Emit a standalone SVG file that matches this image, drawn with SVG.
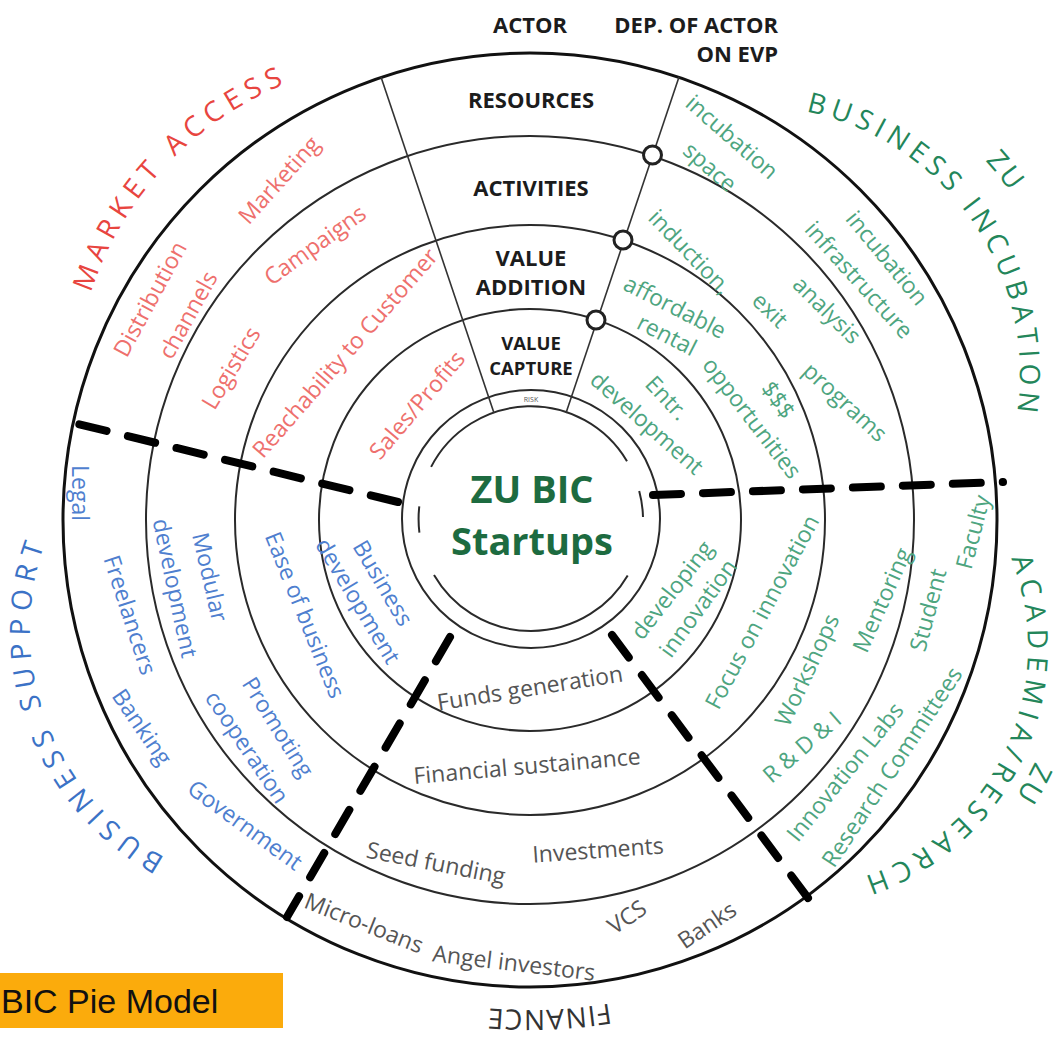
<svg xmlns="http://www.w3.org/2000/svg" width="1060" height="1039" viewBox="0 0 1060 1039">
<defs>
<style>
.ring{fill:none;stroke:#2a2a2a;stroke-width:2}
.outer{fill:none;stroke:#111;stroke-width:3}
.rad{stroke:#333;stroke-width:1.6}
.dash{stroke:#000;stroke-width:8;stroke-dasharray:28 22;stroke-linecap:round;fill:none}
.knob{fill:#fff;stroke:#222;stroke-width:3}
.hd{font-family:'Open Sans','DejaVu Sans',sans-serif;font-weight:700;fill:#1c1c1c;text-anchor:middle}
.it{font-family:'Open Sans','DejaVu Sans',sans-serif;font-size:23px;text-anchor:middle}
.red{fill:#ee706d}
.grn{fill:#4ea57f}
.blu{fill:#4f7fcf}
.gry{fill:#555}
.ttl{font-family:'Open Sans','DejaVu Sans',sans-serif;font-size:28px}
</style>
<path id="pMA" d="M 74.6 377.9 A 339 339 0 0 1 374.0 61.3"/>
<path id="pBI" d="M 684.7 114.6 A 268 268 0 0 1 970.3 529.4"/>
<path id="pZU1" d="M 916.6 104.3 A 316 316 0 0 1 1051.5 273.2"/>
<path id="pBS" d="M 245.8 885.4 A 259 259 0 0 1 89.4 464.9"/>
<path id="pAR" d="M 958.3 477.8 A 242 242 0 0 1 762.8 888.5"/>
<path id="pZU2" d="M 1056.4 690.5 A 274 274 0 0 1 965.6 854.4"/>
<path id="pFI" d="M 859.1 883.0 A 490 490 0 0 1 229.7 907.2"/>
</defs>
<rect width="1060" height="1039" fill="#fff"/>

<g id="rings">
<circle class="outer" cx="530" cy="520" r="467"/>
<circle class="ring" cx="530" cy="520" r="384"/>
<circle class="ring" cx="530" cy="520" r="295"/>
<circle class="ring" cx="530" cy="520" r="211"/>
<circle class="ring" cx="531" cy="519" r="129"/>
<g class="ring" stroke-width="1.6">
<path d="M 431.1 466.9 A 112 112 0 0 1 627.0 461.3"/>
<path d="M 639.2 490.9 A 112 112 0 0 1 643.0 517.0"/>
<path d="M 627.7 575.4 A 112 112 0 0 1 434.0 575.0"/>
<path d="M 419.4 532.6 A 112 112 0 0 1 419.3 506.3"/>
</g>
</g>

<g id="actor-wedge">
<line class="rad" x1="381" y1="77" x2="494" y2="413"/>
<line class="rad" x1="679" y1="77" x2="566" y2="413"/>
<circle class="knob" cx="652.5" cy="155" r="9"/>
<circle class="knob" cx="623" cy="240" r="9"/>
<circle class="knob" cx="596" cy="320" r="9"/>
<text class="hd" x="530" y="33" font-size="22">ACTOR</text>
<text class="hd" x="778" y="33" font-size="22" style="text-anchor:end">DEP. OF ACTOR</text>
<text class="hd" x="778" y="62" font-size="22" style="text-anchor:end">ON EVP</text>
<text class="hd" x="531" y="108" font-size="22">RESOURCES</text>
<text class="hd" x="531" y="196" font-size="22">ACTIVITIES</text>
<text class="hd" x="531" y="266" font-size="22">VALUE</text>
<text class="hd" x="531" y="295" font-size="22">ADDITION</text>
<text class="hd" x="531" y="350" font-size="18.5">VALUE</text>
<text class="hd" x="531" y="375" font-size="18.5">CAPTURE</text>
<text class="hd" x="531" y="402" font-size="7" style="font-weight:400;fill:#555">RISK</text>
</g>

<g id="connectors">
<line class="dash" x1="398" y1="502" x2="70" y2="422"/>
<line class="dash" x1="653" y1="495" x2="1003" y2="482"/>
<line class="dash" x1="450" y1="637" x2="287" y2="917"/>
<line class="dash" x1="612" y1="635" x2="808" y2="898"/>
</g>

<g id="center">
<text x="532" y="503" font-family="'Open Sans','DejaVu Sans',sans-serif" font-weight="700" font-size="38" fill="#1d6b40" text-anchor="middle">ZU BIC</text>
<text x="532" y="555" font-family="'Open Sans','DejaVu Sans',sans-serif" font-weight="700" font-size="38" fill="#1d6b40" text-anchor="middle">Startups</text>
</g>

<g id="market-access">
<text class="ttl" fill="#e8453f" letter-spacing="6.5"><textPath href="#pMA" startOffset="50%" text-anchor="middle">MARKET ACCESS</textPath></text>
<g class="it red">
<text transform="translate(150,299) rotate(-61.5)" dy="0.35em">Distribution</text>
<text transform="translate(188,315) rotate(-61)" dy="0.35em">channels</text>
<text transform="translate(279,180) rotate(-48)" dy="0.35em">Marketing</text>
<text transform="translate(315,245) rotate(-35.6)" dy="0.35em">Campaigns</text>
<text transform="translate(231,368) rotate(-59)" dy="0.35em">Logistics</text>
<text transform="translate(345,353) rotate(-49)" dy="0.35em">Reachability to Customer</text>
<text transform="translate(417,405) rotate(-49.7)" dy="0.35em">Sales/Profits</text>
</g>
</g>

<g id="business-incubation">
<text class="ttl" fill="#23865a" letter-spacing="5.5"><textPath href="#pBI" startOffset="50%" text-anchor="middle">BUSINESS INCUBATION</textPath></text>
<text class="ttl" fill="#23865a" letter-spacing="3"><textPath href="#pZU1" startOffset="50%" text-anchor="middle">ZU</textPath></text>
<g class="it grn">
<text transform="translate(732,137) rotate(41.3)" dy="0.35em">incubation</text>
<text transform="translate(710,167) rotate(41)" dy="0.35em">space</text>
<text transform="translate(887,258) rotate(50.5)" dy="0.35em">incubation</text>
<text transform="translate(859,280) rotate(48)" dy="0.35em">infrastructure</text>
<text transform="translate(690,252) rotate(46)" dy="0.35em">induction,</text>
<text transform="translate(770,310) rotate(44)" dy="0.35em">exit</text>
<text transform="translate(827,310) rotate(44.6)" dy="0.35em">analysis</text>
<text transform="translate(845,402) rotate(42.5)" dy="0.35em">programs</text>
<text transform="translate(675,307) rotate(27)" dy="0.35em">affordable</text>
<text transform="translate(667,335) rotate(27)" dy="0.35em">rental</text>
<text transform="translate(752,418) rotate(52.4)" dy="0.35em">opportunities</text>
<text transform="translate(778,400) rotate(55)" dy="0.35em">$$$</text>
<text transform="translate(667,398) rotate(47)" dy="0.35em">Entr.</text>
<text transform="translate(647,423) rotate(41.5)" dy="0.35em">development</text>
</g>
</g>

<g id="business-support">
<text class="ttl" fill="#3b72c6" letter-spacing="6.9"><textPath href="#pBS" startOffset="50%" text-anchor="middle">BUSINESS SUPPORT</textPath></text>
<g class="it blu">
<text transform="translate(80,493) rotate(90)" dy="0.35em">Legal</text>
<text transform="translate(130,615) rotate(72)" dy="0.35em">Freelancers</text>
<text transform="translate(142,727) rotate(55.6)" dy="0.35em">Banking</text>
<text transform="translate(245,825) rotate(36)" dy="0.35em">Government</text>
<text transform="translate(210,577) rotate(77)" dy="0.35em">Modular</text>
<text transform="translate(175,588) rotate(78)" dy="0.35em">development</text>
<text transform="translate(278,727) rotate(58)" dy="0.35em">Promoting</text>
<text transform="translate(247,747) rotate(56)" dy="0.35em">cooperation</text>
<text transform="translate(305,615) rotate(68)" dy="0.35em">Ease of business</text>
<text transform="translate(383,583) rotate(59.6)" dy="0.35em">Business</text>
<text transform="translate(358,601) rotate(59)" dy="0.35em">development</text>
</g>
</g>

<g id="finance">
<text class="ttl" fill="#333" letter-spacing="1"><textPath href="#pFI" startOffset="50%" text-anchor="middle">FINANCE</textPath></text>
<g class="it gry">
<text transform="translate(530,688) rotate(-9)" dy="0.35em">Funds generation</text>
<text transform="translate(527,766) rotate(-5)" dy="0.35em">Financial sustainance</text>
<text transform="translate(436,863) rotate(11)" dy="0.35em">Seed funding</text>
<text transform="translate(598,850) rotate(-4)" dy="0.35em">Investments</text>
<text transform="translate(364,923) rotate(21.7)" dy="0.35em">Micro-loans</text>
<text transform="translate(514,963) rotate(6.8)" dy="0.35em">Angel investors</text>
<text transform="translate(627,917) rotate(-34)" dy="0.35em">VCS</text>
<text transform="translate(707,925) rotate(-34)" dy="0.35em">Banks</text>
</g>
</g>

<g id="academia-research">
<text class="ttl" fill="#23865a" letter-spacing="6.5"><textPath href="#pAR" startOffset="50%" text-anchor="middle">ACADEMIA/RESEARCH</textPath></text>
<text class="ttl" fill="#23865a" letter-spacing="3"><textPath href="#pZU2" startOffset="50%" text-anchor="middle">ZU</textPath></text>
<g class="it grn">
<text transform="translate(672,590) rotate(-52)" dy="0.35em">developing</text>
<text transform="translate(698,608) rotate(-54)" dy="0.35em">innovation</text>
<text transform="translate(762,612) rotate(-62)" dy="0.35em">Focus on innovation</text>
<text transform="translate(807,670) rotate(-65)" dy="0.35em">Workshops</text>
<text transform="translate(882,600) rotate(-66)" dy="0.35em">Mentoring</text>
<text transform="translate(802,747) rotate(-41)" dy="0.35em">R &amp; D &amp; I</text>
<text transform="translate(845,772) rotate(-51)" dy="0.35em">Innovation Labs</text>
<text transform="translate(928,610) rotate(-75)" dy="0.35em">Student</text>
<text transform="translate(973,532) rotate(-75.4)" dy="0.35em">Faculty</text>
<text transform="translate(892,767) rotate(-56.5)" dy="0.35em">Research Committees</text>
</g>
</g>

<g id="title">
<rect x="0" y="973" width="283" height="55" fill="#fbab0c"/>
<text x="1" y="1013" font-family="'Liberation Sans',Arial,sans-serif" font-size="34" fill="#111">BIC Pie Model</text>
</g>
</svg>
